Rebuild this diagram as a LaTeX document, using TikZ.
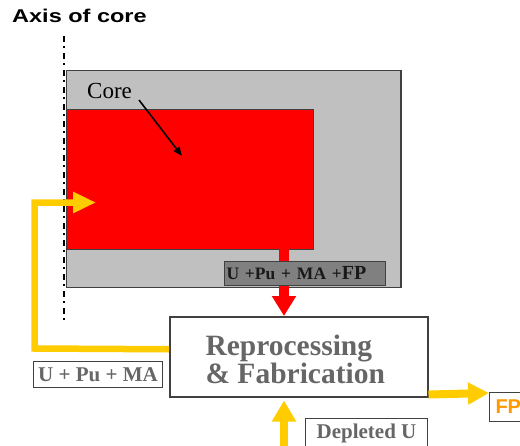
\documentclass[tikz,border=0pt]{standalone}
\usepackage{fontspec}
\setmainfont{Liberation Serif}
\setsansfont{Liberation Sans}
\usetikzlibrary{arrows.meta}
\definecolor{vgray}{HTML}{C0C0C0}
\definecolor{fgyellow}{HTML}{FFCC00}
\definecolor{txtgray}{HTML}{666666}
\definecolor{fporange}{HTML}{FF9900}
\definecolor{lblgray}{HTML}{808080}
\definecolor{edge}{HTML}{404040}
\begin{document}
\begin{tikzpicture}[x=1pt,y=-1pt,
  plainbox/.style={draw=edge, inner sep=0pt, anchor=north west},
  labelbox/.style={draw=edge, line width=1pt, inner sep=0pt, anchor=north west,
    font=\bfseries\fontsize{21}{21}\selectfont, text=txtgray},
  yflow/.style={fgyellow, line width=8pt},
  bigtext/.style={anchor=base west, font=\bfseries\fontsize{29.5}{29.5}\selectfont, text=txtgray}]
\useasboundingbox (0,0) rectangle (520,445);

% vessel and core
\node[plainbox, line width=1pt, fill=vgray, minimum width=334pt, minimum height=217pt] (vessel) at (66,70) {};
\draw[edge, line width=2pt] ([xshift=-0.5pt]vessel.north east) -- ([xshift=-0.5pt]vessel.south east);
\node[plainbox, line width=0.8pt, fill=red, minimum width=247pt, minimum height=140pt] (core) at (66,109) {};

% core label
\node[anchor=base west, font=\fontsize{23}{23}\selectfont, inner sep=0pt] (corelbl) at (87,98) {Core};
\coordinate (corefrom) at (139,100);
\coordinate (coretip) at (182,156);
\draw[line width=1.6pt, -{Triangle[length=9pt,width=7pt]}] (corefrom) -- (coretip);

% axis
\node[anchor=base west, inner sep=0pt, font=\sffamily\bfseries\fontsize{18.5}{18.5}\selectfont] (axislbl) at (12,22) {\scalebox{1.27}[1]{Axis of core}};
\coordinate (axtop) at (64,36);
\coordinate (axbot) at (64,322);

% reprocessing box
\node[plainbox, line width=1.5pt, fill=white, minimum width=258pt, minimum height=80pt] (reproc) at (169,316) {};
\node[bigtext] (rep1) at (202,355) {Reprocessing};
\node[bigtext] (rep2) at (202,383) {\& Fabrication};

% red flow
\coordinate (redfrom) at (284,249);
\draw[red, line width=10pt, -{Triangle[length=20pt,width=23pt]}] (redfrom) -- (redfrom |- reproc.north);
\node[draw=edge, line width=1pt, fill=lblgray, anchor=north west, inner xsep=2pt, inner ysep=0pt,
  minimum height=24pt, text width=157pt, align=left, text=black!90,
  font=\bfseries\fontsize{17.5}{17.5}\selectfont] (mixlbl) at (224,261) {U +Pu + MA +{\fontsize{20}{20}\selectfont FP}};

% axis drawn over the rectangles
\draw[line width=2pt, dash pattern=on 6pt off 4pt on 1.5pt off 5.5pt] (axtop) -- (axbot);

% recycled flow
\coordinate (coretarget) at (96,202.5);
\draw[yflow, line width=6.5pt, -{Triangle[length=23pt,width=20pt]}]
  ([yshift=7.5pt]reproc.west) -- (34.5,348.5) -- (34.5,202.5) -- (coretarget);
\node[labelbox, minimum width=129pt, minimum height=26pt] (recyc) at (33,361) {U + Pu + MA};

% FP output
\node[draw=edge, line width=1pt, anchor=north west, minimum height=29pt, inner xsep=6pt, inner ysep=0pt,
  font=\sffamily\bfseries\fontsize{20}{20}\selectfont, text=fporange] (fp) at (489,392) {FP};
\draw[yflow, -{Triangle[length=21pt,width=21pt]}] ([yshift=3pt]reproc.south east) -- (fp.west |- 0,393);

% depleted U input
\node[labelbox, minimum width=122pt, minimum height=30pt] (dep) at (305,418) {Depleted U};
\coordinate (depin) at (284,446);
\draw[yflow, -{Triangle[length=21pt,width=23pt]}] (depin) -- ([yshift=-3pt]depin |- reproc.south);
\end{tikzpicture}
\end{document}
